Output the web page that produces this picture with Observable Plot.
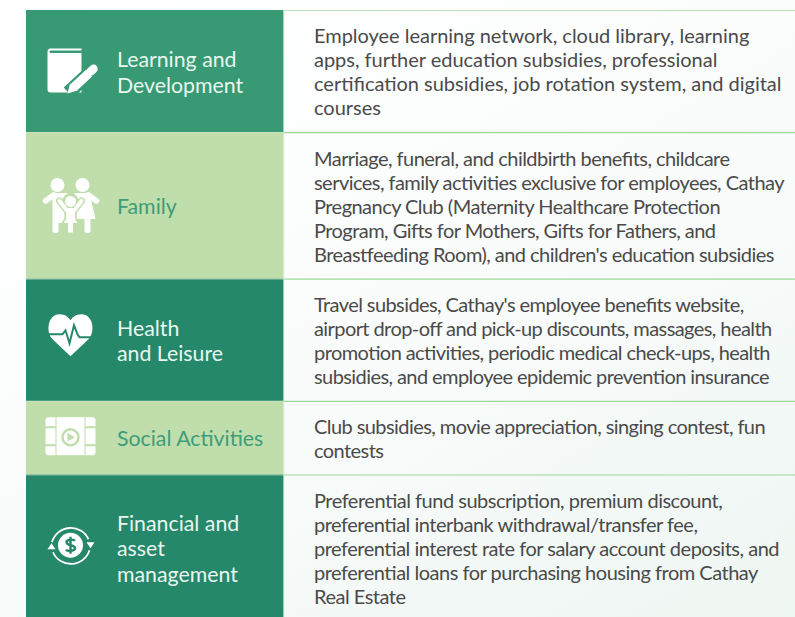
<!DOCTYPE html>
<html><head><meta charset="utf-8">
<script src="https://cdn.jsdelivr.net/npm/d3@7"></script>
<script src="https://cdn.jsdelivr.net/npm/@observablehq/plot@0.6"></script>
<style>
html,body{margin:0;padding:0;width:795px;height:617px;overflow:hidden;background:linear-gradient(150deg,#ffffff 0%,#fbfdfd 45%,#eef6f2 100%);}
svg{display:block;background:transparent!important;}
</style></head><body><script>
const categories = ["Learning and\nDevelopment","Family","Health\nand Leisure","Social Activities","Financial and\nasset\nmanagement"];
const details = [
 "Employee learning network, cloud library, learning\napps, further education subsidies, professional\ncertification subsidies, job rotation system, and digital\ncourses",
 "Marriage, funeral, and childbirth benefits, childcare\nservices, family activities exclusive for employees, Cathay\nPregnancy Club (Maternity Healthcare Protection\nProgram, Gifts for Mothers, Gifts for Fathers, and\nBreastfeeding Room), and children's education subsidies",
 "Travel subsides, Cathay's employee benefits website,\nairport drop-off and pick-up discounts, massages, health\npromotion activities, periodic medical check-ups, health\nsubsidies, and employee epidemic prevention insurance",
 "Club subsidies, movie appreciation, singing contest, fun\ncontests",
 "Preferential fund subscription, premium discount,\npreferential interbank withdrawal/transfer fee,\npreferential interest rate for salary account deposits, and\npreferential loans for purchasing housing from Cathay\nReal Estate"
];
const fills = ["#379a74","#bfdeab","#25886a","#bfdeab","#25886a"];
const labelColors = ["#e9f6ef","#3f9c79","#e9f6ef","#3f9c79","#e9f6ef"];

const enc = s => "data:image/svg+xml;utf8," + encodeURIComponent(`<svg xmlns="http://www.w3.org/2000/svg" width="60" height="60" viewBox="0 0 60 60">${s}</svg>`);
const iconBook = bg => enc(`
 <path d="M5 11 C5 8.5 7 8 9 8 H39 V10 H9 C7.5 10 7 10.5 7 11.2 C7 12 7.8 12.5 9 12.5 H39 V52 H8 C6 52 5 51 5 49 Z" fill="#fff"/>
 <path d="M26 52 L55 25" stroke="${bg}" stroke-width="14" fill="none"/>
 <path d="M31 47 L46.5 32.5" stroke="#fff" stroke-width="9" fill="none"/>
 <path d="M48 31 L51 28.2" stroke="#fff" stroke-width="8.5" stroke-linecap="round" fill="none"/>
 <path d="M25 53 L27.5 43 L35 50 Z" fill="#fff"/>`);
const famParents = `<circle cx="17" cy="8" r="7"/><circle cx="42" cy="8" r="7"/>
 <path d="M12 16 H27 V46 H18 V54 Q18 56 15 56 Q12 56 12 54 Z"/>
 <path d="M34 16 H49 L55 42 H50 V54 Q50 56 47 56 Q44 56 44 54 V42 H34 Z"/>`;
const famArms = `<path d="M5 24 L13 18 M56 24 L48 18" stroke="#fff" stroke-width="5.5" stroke-linecap="round" fill="none"/>`;
const iconFamily = bg => enc(`
 <g fill="#fff">${famParents}</g>${famArms}
 <g fill="${bg}" stroke="${bg}" stroke-width="3.4">
  <circle cx="30" cy="24.5" r="6.5"/>
  <path d="M19 24 L26 33 H34 L41 24" stroke-width="7" stroke-linecap="round" stroke-linejoin="round" fill="none"/>
  <path d="M25.5 33 H34.5 V42 L37 46 H33 V57 H27 V46 H23 L25.5 42 Z"/>
 </g>
 <g fill="#fff" stroke="#fff" stroke-width="0">
  <circle cx="30" cy="24.5" r="5.5"/>
  <path d="M19 24 L26 33 H34 L41 24" stroke-width="4" stroke-linecap="round" stroke-linejoin="round" fill="none"/>
  <path d="M25.5 33 H34.5 V42 L37 46 H32.5 V54 Q32.5 56 31.2 56 Q30 56 30 54 Q30 56 28.8 56 Q27.5 56 27.5 54 V46 H23 L25.5 42 Z"/>
 </g>`);
const iconHeart = bg => enc(`
 <path d="M29 51 L11 34 C4 27 6 9 18 9 C24 9 27 12 29 15 C31 12 34 9 40 9 C52 9 54 27 47 34 Z" fill="#fff"/>
 <path d="M4 29 H21 L24 25 L28 38 L32.5 20 L36 29 L38 32 H54" stroke="${bg}" stroke-width="2" fill="none"/>`);
const iconFilm = bg => enc(`
 <g fill="#fff">
 <path d="M5 13 Q5 10 8 10 H15 V19 H5 Z"/><rect x="5" y="21" width="10" height="16"/><path d="M5 39 H15 V48 H8 Q5 48 5 45 Z"/>
 <rect x="16" y="10" width="28" height="38"/>
 <path d="M45 10 H52 Q55 10 55 13 V19 H45 Z"/><rect x="45" y="21" width="10" height="16"/><path d="M45 39 H55 V45 Q55 48 52 48 H45 Z"/></g>
 <circle cx="30" cy="30" r="8" fill="none" stroke="${bg}" stroke-width="2.5"/>
 <path d="M27 25.8 L34.5 30 L27 34.2 Z" fill="${bg}"/>`);
const iconMoney = bg => enc(`
 <circle cx="29" cy="30" r="12.5" fill="#fff"/>
 <path d="M33.5 25.5 C32 23.8 25 24 25 27 C25 31 33.5 29 33.5 33 C33.5 36 26 36.2 24.5 34.5 M29 21.5 V38.5" stroke="${bg}" stroke-width="2.4" fill="none"/>
 <path d="M10.5 27 A19.5 19.5 0 0 1 47 24" stroke="#fff" stroke-width="1.8" fill="none"/>
 <path d="M48 35 A19.5 19.5 0 0 1 11.5 37" stroke="#fff" stroke-width="1.8" fill="none"/>
 <path d="M45 27 H53 L49 33 Z M6 34 H14 L10 28 Z" fill="#fff"/>`);
const icons = [iconBook,iconFamily,iconHeart,iconFilm,iconMoney];
const iconX = [72,70,71,70,71];
const iconDy = [-1,1,-5,-1,-3];
const tracking = [-0.02,-0.54,-0.58,-0.57,-0.49];

// row height follows the number of text lines
const rowHeight = d => d.split("\n").length * 24.3 + 25;
let rowTop = 10;
const rows = details.map((d,i) => {
  const h = rowHeight(d);
  const r = {i, label:categories[i], text:d, top:rowTop, bottom:rowTop+h, mid:rowTop+h/2, fill:fills[i], color:labelColors[i],
             icon:icons[i](fills[i]), ix:iconX[i], iy:rowTop+h/2+iconDy[i]};
  rowTop += h; return r;
});

const chart = Plot.plot({
  width:795, height:617, margin:0,
  x:{domain:[0,795],range:[0,795],axis:null},
  y:{domain:[0,617],range:[0,617],axis:null},
  style:{background:"transparent",fontFamily:"Lato"},
  marks:[
    Plot.rect(rows,{x1:26,x2:283.5,y1:"top",y2:"bottom",fill:"fill"}),
    Plot.ruleY(rows,{y:"top",x1:283,x2:795,stroke:d=>d.i===0?"#bbe3b4":"#9ed89b",strokeWidth:1.2}),
    Plot.ruleX([283.5],{y1:10,y2:617,stroke:"#d5ecd6",strokeWidth:.8,strokeOpacity:.7}),
    Plot.ruleY(rows.slice(1),{y:"top",x1:26,x2:283,stroke:"#cfe8c5",strokeWidth:.8,strokeOpacity:.7}),
    Plot.image(rows,{x:"ix",y:"iy",src:"icon",width:60,height:60}),
    Plot.text(rows,{x:116.5,y:d=>d.mid,text:"label",fill:"color",textAnchor:"start",lineAnchor:"middle",fontSize:21.3,lineHeight:1.2,fontFamily:"Lato"}),
    Plot.text(rows,{x:313.5,y:d=>d.mid+0.2,text:"text",fill:"#4a4a4a",textAnchor:"start",lineAnchor:"middle",fontSize:20,lineHeight:1.2,fontFamily:"Lato"})
  ]
});
const textGroups = chart.querySelectorAll('g[aria-label="text"]');
textGroups[1].querySelectorAll("text").forEach((t,i) => {
  t.style.letterSpacing = tracking[i] + "px";
  t.style.fontFeatureSettings = '"liga" 1';
  t.style.fontVariantLigatures = "common-ligatures";
});
document.body.appendChild(chart);
</script></body></html>
